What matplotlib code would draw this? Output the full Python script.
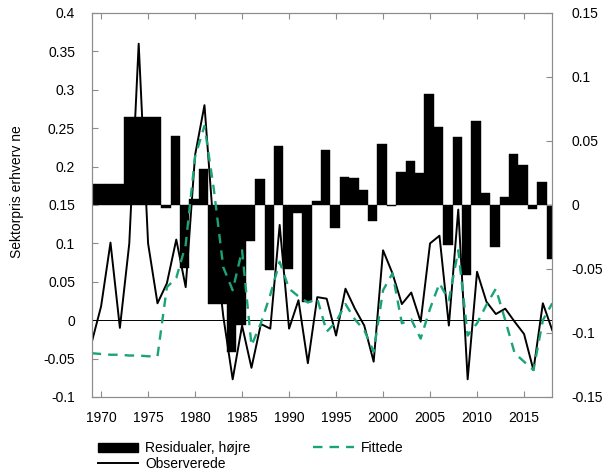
import numpy as np
import matplotlib
matplotlib.use("Agg")
import matplotlib.pyplot as plt
from matplotlib.patches import Patch
from matplotlib.lines import Line2D

plt.rcParams['font.family'] = ['Liberation Sans', 'DejaVu Sans']

years = list(range(1969, 2019))

observed = [-0.029, 0.018, 0.101, -0.010, 0.100, 0.360, 0.100, 0.022, 0.048, 0.105,
            0.043, 0.215, 0.280, 0.115, 0.005, -0.077, -0.007, -0.062, -0.005, -0.011,
            0.124, -0.011, 0.026, -0.056, 0.030, 0.028, -0.020, 0.041, 0.015, -0.007,
            -0.054, 0.091, 0.061, 0.021, 0.036, -0.002, 0.100, 0.110, -0.007, 0.144,
            -0.077, 0.063, 0.024, 0.008, 0.015, -0.002, -0.018, -0.065, 0.022, -0.013]

fitted = [-0.043, -0.044, -0.045, -0.045, -0.046, -0.046, -0.047, -0.047, 0.043, 0.055,
          0.098, 0.213, 0.253, 0.170, 0.069, 0.039, 0.091, -0.033, -0.004, 0.033,
          0.076, 0.041, 0.031, 0.023, 0.028, -0.015, -0.002, 0.021, 0.001, -0.013,
          -0.041, 0.039, 0.061, -0.004, 0.001, -0.024, 0.015, 0.048, 0.026, 0.091,
          -0.020, -0.004, 0.020, 0.041, 0.000, -0.043, -0.054, -0.065, 0.000, 0.022]

residuals = [0.0162, 0.0162, 0.0162, 0.0162, 0.069, 0.069, 0.069, 0.069, -0.002, 0.054,
             -0.049, 0.005, 0.028, -0.077, -0.077, -0.115, -0.094, -0.028, 0.020, -0.051,
             0.046, -0.050, -0.006, -0.076, 0.003, 0.043, -0.018, 0.022, 0.021, 0.012,
             -0.0125, 0.048, -0.001, 0.026, 0.034, 0.025, 0.087, 0.061, -0.031, 0.053,
             -0.055, 0.066, 0.009, -0.033, 0.006, 0.040, 0.031, -0.003, 0.018, -0.042]

left_ticks = [-0.1, -0.05, 0, 0.05, 0.1, 0.15, 0.2, 0.25, 0.3, 0.35, 0.4]
left_labels = ['-0.1', '-0.05', '0', '0.05', '0.1', '0.15', '0.2', '0.25', '0.3', '0.35', '0.4']
right_ticks = [-0.15, -0.1, -0.05, 0, 0.05, 0.1, 0.15]
right_labels = ['-0.15', '-0.1', '-0.05', '0', '0.05', '0.1', '0.15']
x_ticks = list(range(1970, 2019, 5))

green = '#1aa37a'
grey = '#8c8c8c'
fs = 10

fig = plt.figure(figsize=(6.06, 4.76), dpi=100)
ax = fig.add_axes([0.1513, 0.166, 0.76, 0.8067])
ax2 = ax.twinx()

# residual bars on right axis, lines drawn on top
ax2.bar(np.array(years) - 0.1, residuals, width=1.0, color='black',
        edgecolor='black', linewidth=0.3)
ax2.set_ylim(-0.15, 0.15)
ax2.set_yticks(right_ticks)
ax2.set_yticklabels(right_labels, fontsize=fs)

ax.set_zorder(ax2.get_zorder() + 1)
ax.patch.set_visible(False)

ax.axhline(0, color='black', linewidth=0.7)
ax.plot(years, observed, color='black', linewidth=1.4)
ax.plot(years, fitted, color=green, linewidth=1.7, linestyle=(0, (4, 3)))

ax.set_xlim(1969, 2018)
ax.set_ylim(-0.1, 0.4)
ax.set_yticks(left_ticks)
ax.set_yticklabels(left_labels, fontsize=fs)
ax.set_xticks(x_ticks)
ax.set_xticklabels([str(x) for x in x_ticks], fontsize=fs)
ax.set_ylabel('Sektorpris erhverv ne', fontsize=fs)
ax.yaxis.set_label_coords(-0.148, 0.535)

for a in (ax, ax2):
    for s in a.spines.values():
        s.set_color(grey)
        s.set_linewidth(0.8)
ax.tick_params(axis='both', direction='in', length=4, color=grey, pad=12,
               top=True, right=False)
ax.tick_params(axis='x', pad=10)
ax2.tick_params(axis='y', direction='in', length=4, color=grey, pad=14)

handles = [Patch(facecolor='black', edgecolor='black'),
           Line2D([], [], color='black', linewidth=1.4),
           Line2D([], [], color=green, linewidth=1.7, linestyle=(0, (4, 3)))]
labels = ['Residualer, højre', 'Observerede', 'Fittede']
fig.legend(handles, labels, ncol=2, loc='upper left',
           bbox_to_anchor=(0.162, 0.073), frameon=False, fontsize=fs,
           handlelength=2.9, handletextpad=0.5, columnspacing=4.5,
           labelspacing=0.12, borderpad=0, borderaxespad=0)

fig.savefig('out.png', dpi=100)
